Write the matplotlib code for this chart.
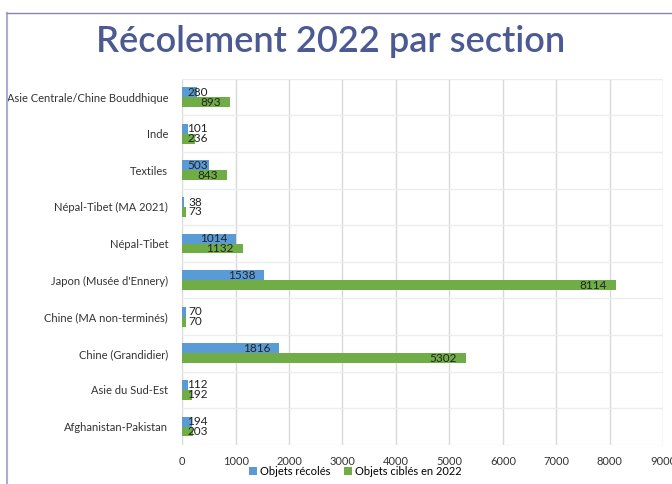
import numpy as np
import matplotlib.pyplot as plt
from matplotlib.lines import Line2D

sections = [
    "Asie Centrale/Chine Bouddhique",
    "Inde",
    "Textiles",
    "Népal-Tibet (MA 2021)",
    "Népal-Tibet",
    "Japon (Musée d'Ennery)",
    "Chine (MA non-terminés)",
    "Chine (Grandidier)",
    "Asie du Sud-Est",
    "Afghanistan-Pakistan",
]
recoles = [280, 101, 503, 38, 1014, 1538, 70, 1816, 112, 194]
cibles = [893, 236, 843, 73, 1132, 8114, 70, 5302, 192, 203]

BLUE = "#5b9bd5"
GREEN = "#70ad47"
plt.rcParams["font.family"] = ["Lato", "DejaVu Sans"]

fig = plt.figure(figsize=(6.72, 4.84), dpi=100)
ax = fig.add_axes([0.271, 0.081, 0.716, 0.756])

y = np.arange(len(sections))[::-1]
h = 0.27
ax.barh(y + h / 2, recoles, height=h, color=BLUE, zorder=3, label="Objets récolés")
ax.barh(y - h / 2, cibles, height=h, color=GREEN, zorder=3, label="Objets ciblés en 2022")


def label(vals, offs):
    for yi, v in zip(y, vals):
        s = str(v)
        xr = max(v - 170, 170 + len(s) * 105)
        ax.text(xr, yi + offs, s, ha="right", va="center", fontsize=8.5,
                color="#222222", zorder=4)


label(recoles, h / 2)
label(cibles, -h / 2)

ax.set_xlim(0, 9000)
ax.set_ylim(-0.5, 9.5)
ax.set_xticks(range(0, 9001, 1000))
ax.set_yticks(y)
ax.set_yticklabels(sections)
ax.set_yticks(np.arange(-0.5, 9.51, 0.5), minor=True)
ax.tick_params(axis="both", length=0, labelsize=8, colors="#333333")
ax.tick_params(axis="y", which="minor", length=0)
ax.tick_params(axis="y", pad=10)
ax.tick_params(axis="x", pad=8)
ax.grid(axis="x", color="#d9d9d9", linewidth=1, zorder=0)
ax.grid(axis="y", which="minor", color="#ececec", linewidth=1, zorder=0)
for sp in ax.spines.values():
    sp.set_visible(False)

ax.legend(loc="upper center", bbox_to_anchor=(0.36, -0.045), ncol=2, frameon=False,
          fontsize=8, handlelength=0.7, handleheight=0.7, handletextpad=0.3,
          columnspacing=1.2, borderaxespad=0)

fig.text(0.492, 0.915, "Récolement 2022 par section", ha="center", va="center",
         fontsize=26, color="#4b5a92", fontweight="semibold")

# slide frame
fig.add_artist(Line2D([0.0104, 0.0104], [0.0, 0.973], transform=fig.transFigure,
                      color="#a7aed6", linewidth=1.5))
fig.add_artist(Line2D([0.0104, 1.0], [0.973, 0.973], transform=fig.transFigure,
                      color="#8088b0", linewidth=1))

fig.savefig("out.png", dpi=100)
